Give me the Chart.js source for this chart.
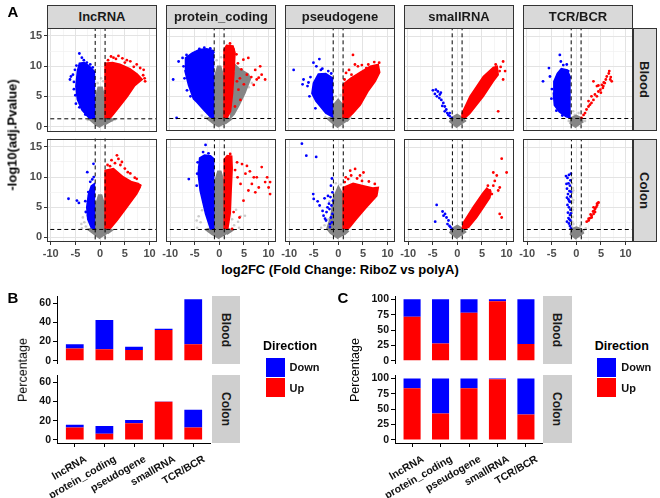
<!DOCTYPE html>
<html><head><meta charset="utf-8">
<script src="https://cdn.jsdelivr.net/npm/chart.js@4.4.1/dist/chart.umd.min.js"></script>
<style>
body{margin:0;width:660px;height:498px;background:#fff;position:relative;overflow:hidden;font-family:"Liberation Sans",Arial,sans-serif;}
canvas{position:absolute;}
.t{position:absolute;white-space:nowrap;line-height:1;}
.stripT{position:absolute;background:#D9D9D9;border:1px solid #333;box-sizing:border-box;font-weight:bold;font-size:13px;color:#1a1a1a;display:flex;align-items:center;justify-content:center;}
.stripR{position:absolute;background:#D9D9D9;border:1px solid #333;box-sizing:border-box;font-weight:bold;font-size:13px;color:#1a1a1a;display:flex;align-items:center;justify-content:center;writing-mode:vertical-rl;}
.stripG{position:absolute;background:#CFCFCF;font-weight:bold;font-size:12px;color:#1a1a1a;display:flex;align-items:center;justify-content:center;writing-mode:vertical-rl;}
.key{position:absolute;width:19px;height:19px;}
</style></head><body>
<script>
// ---------------- data ----------------
const categories = ['lncRNA','protein_coding','pseudogene','smallRNA','TCR/BCR'];
const tissues = ['Blood','Colon'];
const fcCut = [-1, 1];
const padjCut = 1.301;           // -log10(0.05)
const xRangeA = [-10.75, 11.5];
const yRangeA = [-0.78, 16.38];

// Panel B: percentage of genes (Up / Down)
const pctUp_Blood   = [12.7, 12.0, 11.0, 31.9, 17.1];
const pctDown_Blood = [4.4, 30.5, 3.4, 1.4, 47.0];
const pctUp_Colon   = [12.9, 6.4, 17.3, 39.7, 12.9];
const pctDown_Colon = [3.0, 8.2, 3.4, 0.3, 18.6];
// Panel C: share within significant genes
const shareUp_Blood   = [71.8, 28.0, 78.2, 97.1, 27.0];
const shareDown_Blood = [28.2, 72.0, 21.8, 2.9, 73.0];
const shareUp_Colon   = [84.0, 42.8, 84.0, 98.4, 41.2];
const shareDown_Colon = [16.0, 57.2, 16.0, 1.6, 58.8];

// Panel A: volcano clouds (dense areas as outlines, sparse points as points) [log2FC, -log10 padj]
const lnc_Blood_greyArea = [[[0,-0.1],[-0.9,0.3],[-2.2,1.2],[-1,1.5],[-1,4.5],[-0.4,6.5],[0.4,6.5],[1,4.5],[1,1.5],[2.8,1.2],[0.9,0.3]]];
const lnc_Blood_greyPts = [[-1.6,1.0],[-2.5,1.1],[1.8,0.9],[2.4,1.0],[-0.5,7.2],[0.6,7.5],[0.2,8.0],[-0.7,5.8],[0.8,5.5],[3.0,1.2]];
const lnc_Blood_downArea = [[[-1,1.4],[-2.2,1.4],[-3.7,2.8],[-4.6,4.5],[-4.9,6.7],[-4.6,9.2],[-4.2,10.5],[-3.2,10.6],[-2.2,10.0],[-1,9.0]]];
const lnc_Blood_downPts = [[-4.2,12.1],[-3.7,11.4],[-6.1,7.8],[-5.9,8.3],[-5.5,8.6],[-5.1,9.4],[-5.0,5.2],[-5.3,6.2],[-4.9,3.8],[-3.3,11.0],[-2.7,10.6],[-4.8,10.1],[-5.3,7.4],[-1.5,9.8],[-2.0,10.3],[-4.2,3.2],[-3.0,2.0]];
const lnc_Blood_upArea = [[[1,1.4],[1,10.5],[2.5,10.6],[4,10.3],[6,9.6],[7.5,8.7],[8.5,7.8],[7,6.8],[5.5,5.0],[4,3.4],[2.8,2.2],[2,1.4]]];
const lnc_Blood_upPts = [[2.7,11.4],[3.7,11.7],[4.5,11.3],[6.1,10.8],[7.4,10.3],[8.1,9.7],[8.8,9.4],[9.1,7.5],[8.7,8.5],[5.4,11.0],[3.2,11.2],[6.8,9.9],[1.6,11.0],[2.2,11.6],[5.0,10.6],[9.0,8.0]];

const pc_Blood_greyArea = [[[0,-0.1],[-1.2,0.5],[-2.5,1.3],[-1,1.8],[-1,8],[-0.3,10],[0.3,10],[1,8],[1,1.5],[2.5,1.2],[1.2,0.4]],
  [[2.9,10.5],[4.2,9.5],[5.9,8.7],[6.3,7.9],[5.2,5.5],[4.0,3.5],[3.0,2.0],[2.3,1.4],[2.7,5.5],[3.1,9.0]]];
const pc_Blood_greyPts = [[-2.8,1.5],[-3.5,1.8],[6.6,7.2],[6.0,6.5],[-0.5,11],[0.4,11.5]];
const pc_Blood_downArea = [[[-1,1.4],[-1.8,1.6],[-3.2,2.8],[-4.5,4.0],[-5.2,4.6],[-6.2,6.9],[-6.9,9.2],[-6.8,11.4],[-5.5,12.2],[-4.0,12.8],[-2.5,12.9],[-1.2,12.6],[-1,12.2]]];
const pc_Blood_downPts = [[-9.3,7.8],[-8.6,1.4],[-8.2,10.8],[-7.4,11.4],[-7.2,10.0],[-7.0,8.0],[-6.6,11.9],[-6.5,6.0],[-5.8,5.0],[-4.0,12.9],[-3.0,13.1],[-1.8,13.0]];
const pc_Blood_upArea = [[[1,1.4],[1,12.8],[1.5,13.5],[2.8,13.4],[3.2,12.3],[3.0,9.0],[2.7,5.5],[2.3,2.5],[1.6,1.4]]];
const pc_Blood_upPts = [[2.9,12.8],[4.9,11.1],[5.9,11.4],[5.6,8.6],[7.3,9.4],[8.0,8.1],[8.6,8.6],[9.3,7.8],[7.0,6.9],[3.9,6.1],[4.3,4.4],[3.2,3.3],[8.3,10.0],[7.6,7.8],[3.6,7.5],[4.5,9.5],[3.8,10.5],[6.5,8.2],[5.0,7.0],[3.5,12.0],[2.2,13.8],[4.2,8.0]];

const ps_Blood_greyArea = [[[0,-0.2],[-1.5,0.8],[-2.2,1.3],[-1,1.6],[-1,3.5],[0,4.5],[1,3.5],[1,1.6],[2.2,1.2],[1.8,0.8]]];
const ps_Blood_greyPts = [[-0.5,5.0],[0.5,5.2],[2.5,1.5],[-2.6,1.5]];
const ps_Blood_downArea = [[[-1,1.5],[-2.5,2.2],[-4.5,4.2],[-5.3,5.5],[-5.0,7.2],[-4.0,8.7],[-2.5,8.8],[-1,8.0]]];
const ps_Blood_downPts = [[-9.0,9.4],[-7.0,7.8],[-5.0,10.6],[-3.8,11.2],[-6.2,6.7],[-5.6,8.2],[-4.4,10.0],[-3.2,9.6],[-5.8,5.0],[-6.0,7.3],[-4.6,3.0],[-3.5,9.4],[-7.2,7.0],[-2.0,9.2],[-1.4,8.8]];
const ps_Blood_upArea = [[[1,1.4],[1,7.0],[2.5,8.0],[4.5,9.0],[6.5,10.0],[8.1,10.3],[8.4,9.0],[7.5,7.5],[6.0,5.8],[4.5,3.6],[3.0,2.2],[2,1.4]]];
const ps_Blood_upPts = [[3.0,11.9],[3.4,10.3],[2.2,9.4],[4.0,10.0],[5.7,9.7],[1.6,8.9],[2.7,8.6],[6.1,10.3],[4.8,10.2],[8.3,10.6],[7.3,10.7],[1.3,7.8]];

const sm_Blood_greyArea = [[[0,-0.2],[-1.5,0.8],[-1,1.5],[0,2.0],[1,1.5],[1.8,0.8]]];
const sm_Blood_greyPts = [];
const sm_Blood_downArea = [];
const sm_Blood_downPts = [[-4.9,6.0],[-4.3,6.1],[-3.9,5.8],[-4.5,5.4],[-3.5,5.3],[-4.1,5.0],[-3.2,4.4],[-2.8,3.9],[-2.5,3.3],[-2.2,2.8],[-1.8,1.9],[-1.5,1.7],[-2.5,2.5],[-1.1,1.4],[-3.0,3.4],[-2.0,2.2],[-1.5,2.2],[-3.6,4.7],[-3.3,5.6]];
const sm_Blood_upArea = [[[1,1.4],[1,2.2],[2.6,5.0],[5.3,8.3],[7.3,9.8],[8.1,10.0],[8.3,8.6],[7.3,7.5],[5.3,5.0],[2.6,2.2],[1.6,1.4]]];
const sm_Blood_upPts = [[9.3,10.8],[9.3,7.8],[8.3,2.5],[9.7,9.2],[8.6,9.2],[8.8,9.9],[7.8,10.3]];

const tcr_Blood_greyArea = [[[0,-0.2],[-1.2,0.5],[-1,1.4],[0,1.8],[1,1.4],[1.4,0.6]]];
const tcr_Blood_greyPts = [[-0.6,2.5],[-0.3,1.9],[0.5,2.2],[1.3,1.0],[1.8,0.9],[-1.5,0.9]];
const tcr_Blood_downArea = [[[-1.1,1.4],[-2.0,1.6],[-3.4,2.4],[-4.4,3.5],[-4.6,5.5],[-4.5,7.5],[-3.8,8.8],[-3.0,9.6],[-1.8,9.4],[-1.1,8.0]]];
const tcr_Blood_downPts = [[-3.3,11.9],[-3.1,10.8],[-5.5,9.7],[-6.7,7.5],[-5.3,8.3],[-1.9,10.3],[-1.6,9.2],[-2.6,10.2],[-4.9,6.2],[-5.0,4.6],[-4.0,2.6],[-2.8,1.8]];
const tcr_Blood_upArea = [];
const tcr_Blood_upPts = [[1.1,1.4],[1.5,1.9],[2.1,2.8],[2.5,3.3],[3.1,3.9],[3.5,4.4],[3.5,7.5],[4.2,6.7],[4.5,5.8],[4.9,6.1],[5.2,6.9],[5.5,6.7],[5.8,7.2],[6.2,8.3],[6.7,9.2],[6.9,7.8],[7.2,7.5],[6.6,8.8],[2.8,3.6],[3.8,5.3],[4.2,5.0],[5.0,5.6],[5.4,6.4],[6.0,7.8],[1.8,2.2],[2.5,4.2],[3.1,5.0],[4.5,6.8],[5.6,7.3],[7.0,8.2]];

const lnc_Colon_greyArea = [[[0,-0.2],[-1.5,0.7],[-2.5,1.3],[-1,1.6],[-1,5],[-0.3,7],[0.3,7],[1,5],[1,1.6],[2.5,1.2],[1.5,0.6]]];
const lnc_Colon_greyPts = [[-3.7,1.5],[-3.2,2.5],[-3.5,3.3],[-2.9,1.8],[-3.8,2.2],[-2.6,3.6]];
const lnc_Colon_downArea = [[[-1,1.4],[-1.8,1.6],[-2.5,3.0],[-2.7,5.0],[-2.4,7.0],[-1.8,8.5],[-1,9.0]]];
const lnc_Colon_downPts = [[-6.4,6.4],[-4.7,6.1],[-4.3,5.7],[-2.6,10.8],[-1.35,12.2],[-2.4,7.5],[-2.0,9.2],[-1.3,10.0],[-1.6,9.6],[-3.0,6.0],[-2.9,4.2]];
const lnc_Colon_upArea = [[[1,1.4],[1,11.1],[2.7,11.4],[4.7,10.0],[6.4,9.2],[7.8,8.9],[8.1,8.3],[7.4,7.2],[5.4,5.0],[3.4,2.8],[2.0,1.4]]];
const lnc_Colon_upPts = [[3.4,13.6],[3.7,13.0],[3.0,12.3],[2.3,12.8],[4.1,12.0],[5.0,11.4],[6.1,10.6],[7.4,9.7],[8.1,8.6],[2.0,11.8],[1.5,12.0],[5.6,10.8],[7.0,9.9],[4.4,12.5]];

const pc_Colon_greyArea = [[[0,-0.2],[-1.5,0.5],[-2.8,1.3],[-1,1.7],[-1,9],[-0.3,11],[0.3,11],[1,9],[1,1.6],[2.8,1.2],[1.5,0.5]]];
const pc_Colon_greyPts = [[-4.5,1.6],[-3.8,2.5],[-4.2,3.5],[-3.5,4.5],[-4.6,2.8],[3.0,2.0],[3.8,2.6],[4.3,3.5],[3.4,4.6],[2.6,3.0],[4.0,1.6],[5.2,3.6]];
const pc_Colon_downArea = [[[-1,1.4],[-1.8,1.4],[-2.8,3.9],[-3.9,7.8],[-4.3,10.6],[-4.0,13.2],[-3.0,13.7],[-1.8,13.6],[-1,13.0]]];
const pc_Colon_downPts = [[-2.8,15.4],[-6.2,9.7],[-4.5,10.6],[-4.1,11.7],[-3.3,14.2],[-2.2,14.0],[-4.6,8.6],[-4.4,12.5]];
const pc_Colon_upArea = [[[1,1.4],[1,13.0],[1.6,13.6],[2.5,13.5],[2.6,11.5],[2.4,8],[2.2,4],[1.7,1.4]]];
const pc_Colon_upPts = [[2.2,13.9],[3.6,12.5],[4.6,12.2],[5.6,11.9],[7.6,10.0],[8.6,11.7],[9.3,9.2],[10,8.3],[6.6,8.9],[7.0,10.0],[4.9,6.1],[4.1,3.3],[2.9,4.2],[2.6,1.4],[5.9,7.8],[4.3,8.9],[5.3,10.6],[9.7,10],[10.3,9.2],[8.0,8.3],[7.3,7.5],[3.7,10.0],[10.3,7.2],[3.2,11.2],[6.2,11.0]];

const ps_Colon_greyArea = [[[0,-0.2],[-1.6,0.7],[-2.3,1.4],[-1.5,3.5],[-1,6.5],[0,8.5],[1,7],[1,1.6],[2.0,1.0],[1.2,0.4]]];
const ps_Colon_greyPts = [[-2.8,2.0],[-3.5,1.6],[-2.0,3.0],[-1.8,6.0],[-0.5,9.0],[0.5,8.8],[1.5,2.5],[2.5,2.0]];
const ps_Colon_downArea = [];
const ps_Colon_downPts = [[-7.4,15.6],[-6.5,13.6],[-4.5,13.4],[-5.1,7.2],[-5.0,6.4],[-3.0,3.6],[-2.7,3.1],[-2.1,6.9],[-1.9,5.6],[-2.2,5.0],[-2.4,4.2],[-1.7,1.7],[-1.3,9.8],[-1.5,8.6],[-1.2,7.5],[-1.6,6.7],[-1.1,6.1],[-1.4,5.3],[-1.8,4.7],[-1.2,3.9],[-1.5,3.3],[-1.3,2.5],[-1.7,2.2],[-2.5,2.8],[-3.2,4.4],[-4.2,6.0],[-3.8,5.3],[-2.8,6.5]];
const ps_Colon_upArea = [[[1,1.4],[1,8.3],[3,9.0],[5,8.6],[7,8.2],[8.1,8.3],[7.8,6.9],[5.7,5.0],[3.7,3.1],[2.2,1.6],[1.6,1.4]]];
const ps_Colon_upPts = [[3.4,11.4],[2.4,11.1],[4.4,10.3],[5.1,10.8],[1.5,10.0],[2.0,9.7],[6.2,9.3],[7.4,8.9],[3.8,9.8],[2.6,10.3],[1.3,9.2],[4.8,9.4]];

const sm_Colon_greyArea = [[[0,-0.2],[-1.5,0.8],[-1,1.5],[0,2.0],[1,1.5],[1.8,0.8]]];
const sm_Colon_greyPts = [];
const sm_Colon_downArea = [];
const sm_Colon_downPts = [[-4.2,5.4],[-4.5,2.6],[-3.0,4.3],[-2.5,3.9],[-2.2,3.3],[-1.8,2.8],[-1.6,1.9],[-1.4,1.7],[-2.0,2.2],[-1.1,1.4],[-2.8,3.6]];
const sm_Colon_upArea = [[[1,1.4],[1.2,2.4],[3.2,5.0],[5.2,7.4],[6.0,8.2],[6.8,7.6],[6.6,6.6],[5.3,5.0],[3.9,3.3],[2.3,1.7],[1.6,1.4]]];
const sm_Colon_upPts = [[9.0,13.1],[10,10.8],[7.3,10.8],[8.0,10.3],[7.6,9.4],[8.6,8.3],[8.3,7.8],[7.3,8.6],[6.6,7.8],[8.6,3.9],[9.0,3.3],[7.0,7.2],[6.2,8.6],[5.8,7.6]];

const tcr_Colon_greyArea = [[[0,-0.3],[-1.2,0.5],[-1,1.4],[0,1.7],[1,1.4],[1.5,0.6]]];
const tcr_Colon_greyPts = [[-0.9,1.8],[-0.8,2.6],[-0.7,3.4],[-0.9,4.2],[-0.8,5.0],[-0.7,5.8],[-0.9,6.6],[-0.8,7.4],[-0.7,8.2],[-0.9,9.0],[-0.8,9.8],[-0.6,2.2],[-0.7,4.6],[-0.6,6.2],[-0.6,7.8],[1.5,1.2],[1.9,1.5],[0.8,1.9]];
const tcr_Colon_downArea = [];
const tcr_Colon_downPts = [[-1.1,1.5],[-1.3,1.9],[-1.5,2.3],[-1.2,2.8],[-1.6,3.2],[-1.3,3.7],[-1.7,4.1],[-1.2,4.6],[-1.5,5.0],[-1.8,5.4],[-1.3,5.9],[-1.6,6.3],[-1.2,6.8],[-1.7,7.2],[-1.4,7.7],[-1.9,8.1],[-1.3,8.6],[-1.6,9.0],[-1.2,9.5],[-1.8,9.9],[-1.5,10.4],[-2.1,10.2],[-1.1,10.6],[-1.4,3.0],[-1.9,2.6],[-1.1,4.0],[-1.4,6.0],[-1.9,6.6],[-1.1,7.6],[-2.0,8.9]];
const tcr_Colon_upArea = [];
const tcr_Colon_upPts = [[2.1,2.6],[2.5,3.1],[2.8,3.2],[3.1,3.6],[3.5,3.9],[3.6,4.4],[3.8,4.7],[4.0,5.0],[4.2,5.3],[4.4,5.7],[4.5,5.8],[3.8,4.2],[3.4,4.3],[2.9,3.8],[4.2,5.6],[3.5,5.0],[3.1,3.3],[2.5,2.8]];

// ---------------- layout / rendering ----------------
Chart.defaults.animation = false;
Chart.defaults.font.family = '"Liberation Sans", Arial, sans-serif';
Chart.defaults.plugins.legend.display = false;
Chart.defaults.plugins.tooltip.enabled = false;

const panels = [
 [ [lnc_Blood_greyArea,lnc_Blood_greyPts,lnc_Blood_downArea,lnc_Blood_downPts,lnc_Blood_upArea,lnc_Blood_upPts],
   [pc_Blood_greyArea,pc_Blood_greyPts,pc_Blood_downArea,pc_Blood_downPts,pc_Blood_upArea,pc_Blood_upPts],
   [ps_Blood_greyArea,ps_Blood_greyPts,ps_Blood_downArea,ps_Blood_downPts,ps_Blood_upArea,ps_Blood_upPts],
   [sm_Blood_greyArea,sm_Blood_greyPts,sm_Blood_downArea,sm_Blood_downPts,sm_Blood_upArea,sm_Blood_upPts],
   [tcr_Blood_greyArea,tcr_Blood_greyPts,tcr_Blood_downArea,tcr_Blood_downPts,tcr_Blood_upArea,tcr_Blood_upPts] ],
 [ [lnc_Colon_greyArea,lnc_Colon_greyPts,lnc_Colon_downArea,lnc_Colon_downPts,lnc_Colon_upArea,lnc_Colon_upPts],
   [pc_Colon_greyArea,pc_Colon_greyPts,pc_Colon_downArea,pc_Colon_downPts,pc_Colon_upArea,pc_Colon_upPts],
   [ps_Colon_greyArea,ps_Colon_greyPts,ps_Colon_downArea,ps_Colon_downPts,ps_Colon_upArea,ps_Colon_upPts],
   [sm_Colon_greyArea,sm_Colon_greyPts,sm_Colon_downArea,sm_Colon_downPts,sm_Colon_upArea,sm_Colon_upPts],
   [tcr_Colon_greyArea,tcr_Colon_greyPts,tcr_Colon_downArea,tcr_Colon_downPts,tcr_Colon_upArea,tcr_Colon_upPts] ]
];

function addCanvas(left, top, w, h){
  const c = document.createElement('canvas');
  c.width = Math.round(w); c.height = Math.round(h);
  c.style.left = Math.round(left)+'px'; c.style.top = Math.round(top)+'px';
  c.style.width = Math.round(w)+'px'; c.style.height = Math.round(h)+'px';
  document.body.appendChild(c);
  return c;
}
// build a chart and adjust its canvas so that the plot area lands on the target rectangle
function fitted(tL, tT, tW, tH, pads, build){
  let [pl, pt, pr, pb] = pads, cv, chart;
  for (let k = 0; k < 4; k++){
    cv = addCanvas(tL - pl, tT - pt, tW + pl + pr, tH + pt + pb);
    chart = build(cv);
    const a = chart.chartArea;
    const npl = Math.round(a.left), npt = Math.round(a.top), npr = Math.round(cv.width - a.right), npb = Math.round(cv.height - a.bottom);
    if (npl === pl && npt === pt && npr === pr && npb === pb) break;
    if (k === 3) break;
    chart.destroy(); cv.remove();
    pl = npl; pt = npt; pr = npr; pb = npb;
  }
  return chart;
}
function addText(txt, x, y, css, rot){
  const d = document.createElement('div');
  d.className = 't'; d.textContent = txt;
  d.style.cssText += css;
  d.style.left = x+'px'; d.style.top = y+'px';
  d.style.transform = 'translate(-50%,-50%)' + (rot ? ' rotate('+rot+'deg)' : '');
  document.body.appendChild(d);
}
function addBox(cls, x, y, w, h, txt, bg){
  const d = document.createElement('div');
  d.className = cls; d.style.left = x+'px'; d.style.top = y+'px';
  d.style.width = w+'px'; d.style.height = h+'px';
  if (bg) d.style.background = bg;
  if (txt) d.textContent = txt;
  document.body.appendChild(d);
}
const toXY = a => a.map(p => ({x:p[0], y:p[1]}));
const borderPlugin = { id:'pborder', afterDatasetsDraw(chart){
  const a = chart.chartArea, c = chart.ctx;
  c.save(); c.strokeStyle = '#333'; c.lineWidth = 1;
  c.strokeRect(Math.round(a.left)+0.5, Math.round(a.top)+0.5, Math.round(a.right-a.left)-1, Math.round(a.bottom-a.top)-1);
  c.restore(); } };
const isMajor = v => Math.abs(v/5 - Math.round(v/5)) < 1e-6;

const colL = [47, 166, 285, 404, 523], colW = 110;
const rowT = [28, 139], rowH = 103;
const GREY_DENSE = '#858585', GREY_PTS = 'rgba(140,140,140,0.45)', BLUE = '#0000FF', RED = '#FF0000';

function volcano(r, c){
  const [gA, gP, dA, dP, uA, uP] = panels[r][c];
  const padL = c === 0 ? 30 : 0, padB = r === 1 ? 18 : 0;
  const ds = [];
  const area = (poly, col, ord) => ({data: toXY(poly), showLine:true, fill:'shape', backgroundColor:col, borderColor:col, borderWidth:1.6, pointRadius:0, order:ord});
  const pts = (arr, col, rad, ord) => ({data: toXY(arr), showLine:false, pointRadius:rad, pointBorderWidth:0, pointBackgroundColor:col, backgroundColor:col, borderColor:col, order:ord});
  gA.forEach(p => ds.push(area(p, GREY_DENSE, 9)));
  ds.push(pts(gP, GREY_PTS, 1.3, 8));
  dA.forEach(p => ds.push(area(p, BLUE, 6)));
  ds.push(pts(dP, BLUE, 1.4, 5));
  uA.forEach(p => ds.push(area(p, RED, 4)));
  ds.push(pts(uP, RED, 1.4, 3));
  const dash = (pa) => ({data: toXY(pa), showLine:true, borderColor:'#000', borderWidth:1, borderDash:[4,3], pointRadius:0, fill:false, order:0});
  fcCut.forEach(v => ds.push(dash([[v, -5],[v, 25]])));
  ds.push(dash([[-20, padjCut],[20, padjCut]]));
  const tickFont = {size:11, weight:'bold'};
  fitted(colL[c], rowT[r], colW, rowH, [padL, 0, 0, padB], cv => new Chart(cv, {
    type:'scatter',
    data:{datasets: ds.map(d => Object.assign({}, d, {data: d.data.slice()}))},
    options:{
      responsive:false, maintainAspectRatio:false,
      layout:{padding:0},
      scales:{
        x:{ type:'linear', min:xRangeA[0], max:xRangeA[1],
            ticks:{ display: r===1, stepSize:2.5, includeBounds:false, autoSkip:false, maxRotation:0, font:tickFont, color:'#4D4D4D', padding:2,
                    callback: v => isMajor(v) ? String(v) : '' },
            grid:{ color: ctx => isMajor(ctx.tick.value) ? '#E3E3E3' : '#F1F1F1', lineWidth: ctx => isMajor(ctx.tick.value) ? 1 : 0.7,
                   drawTicks: r===1, tickLength:3, tickColor: ctx => isMajor(ctx.tick.value) ? '#333' : 'rgba(0,0,0,0)' },
            border:{display:false},
            afterFit: s => { s.height = padB; } },
        y:{ type:'linear', min:yRangeA[0], max:yRangeA[1],
            ticks:{ display: c===0, stepSize:2.5, includeBounds:false, autoSkip:false, font:tickFont, color:'#4D4D4D', padding:2,
                    callback: v => isMajor(v) ? String(v) : '' },
            grid:{ color: ctx => isMajor(ctx.tick.value) ? '#E3E3E3' : '#F1F1F1', lineWidth: ctx => isMajor(ctx.tick.value) ? 1 : 0.7,
                   drawTicks: c===0, tickLength:3, tickColor: ctx => isMajor(ctx.tick.value) ? '#333' : 'rgba(0,0,0,0)' },
            border:{display:false},
            afterFit: s => { s.width = padL; } }
      }
    },
    plugins:[borderPlugin]
  }));
}
for (let r=0;r<2;r++) for (let c=0;c<5;c++) volcano(r,c);

// strips panel A
categories.forEach((name, c) => addBox('stripT', colL[c], 4.5, colW, 24, name));
tissues.forEach((name, r) => addBox('stripR', 632.5, rowT[r], 24, rowH, name));
addText('A', 13, 11, 'font-weight:bold;font-size:15px;color:#000;');
addText('-log10(adj.Pvalue)', 12, 135, 'font-weight:bold;font-size:13px;color:#000;', -90);
addText('log2FC (Fold Change: RiboZ vs polyA)', 340, 269, 'font-weight:bold;font-size:13px;color:#000;');

// ---------------- bar panels ----------------
function barChart(left, top, w, h, lower, up, down, yMin, yMax, step){
  const padL = 40, padB = lower ? 58 : 0;
  const xs = categories.map((_, i) => i+1);
  fitted(left, top, w, h, [padL, 0, 0, padB], cv => new Chart(cv, {
    type:'bar',
    data:{ datasets:[
      {label:'Up', data: xs.map((x,i)=>({x, y: up[i]})), backgroundColor:RED, borderWidth:0, categoryPercentage:0.6, barPercentage:1},
      {label:'Down', data: xs.map((x,i)=>({x, y: down[i]})), backgroundColor:BLUE, borderWidth:0, categoryPercentage:0.6, barPercentage:1}
    ]},
    options:{
      responsive:false, maintainAspectRatio:false, layout:{padding:0},
      scales:{
        x:{ type:'linear', stacked:true, offset:false, min:0.4, max:5.6, display: lower,
            ticks:{ stepSize:1, includeBounds:false, autoSkip:false, minRotation:30, maxRotation:30, labelOffset:11, padding:6,
                    font:{size:10.5, weight:'bold'}, color:'#111',
                    callback: v => Number.isInteger(v) ? categories[v-1] : '' },
            grid:{ display:true, drawOnChartArea:false, drawTicks:true, tickLength:4, color:'#000', tickColor:'#000', offset:false },
            border:{display:true, color:'#000', width:1},
            afterFit: s => { s.height = padB; } },
        y:{ type:'linear', stacked:true, min:yMin, max:yMax,
            ticks:{ stepSize:step, includeBounds:false, font:{size:10.5, weight:'bold'}, color:'#111', padding:2 },
            grid:{ display:true, drawOnChartArea:false, drawTicks:true, tickLength:4, color:'#000', tickColor:'#000' },
            border:{display:true, color:'#000', width:1},
            afterFit: s => { s.width = padL; } }
      }
    }
  }));
}
// B
barChart(57, 296, 154, 68, false, pctUp_Blood, pctDown_Blood, -3.2, 67.2, 20);
barChart(57, 375, 154, 68, true, pctUp_Colon, pctDown_Colon, -3.2, 67.2, 20);
// C
barChart(395, 296, 148, 68, false, shareUp_Blood, shareDown_Blood, -5, 105, 25);
barChart(395, 375, 148, 68, true, shareUp_Colon, shareDown_Colon, -5, 105, 25);

tissues.forEach((name, r) => {
  const y = r === 0 ? 296 : 375;
  addBox('stripG', 211.7, y, 28.3, 68, name);
  addBox('stripG', 543.3, y, 28.3, 68, name);
});
addText('B', 13, 297, 'font-weight:bold;font-size:15px;color:#000;');
addText('C', 343, 297, 'font-weight:bold;font-size:15px;color:#000;');
addText('Percentage', 23, 370, 'font-size:12.5px;color:#000;', -90);
addText('Percentage', 355, 370, 'font-size:12.5px;color:#000;', -90);

// legends
[265.5, 597.3].forEach(lx => {
  addText('Direction', lx + 24.5, 346, 'font-weight:bold;font-size:12.5px;color:#000;');
  addBox('key', lx, 357.7, 19, 19, '', BLUE);
  addBox('key', lx, 378.2, 19, 19, '', RED);
  const d1 = document.createElement('div'); d1.className='t'; d1.textContent='Down';
  d1.style.cssText += 'left:'+(lx+24)+'px;top:362px;font-weight:bold;font-size:11px;color:#111;'; document.body.appendChild(d1);
  const d2 = document.createElement('div'); d2.className='t'; d2.textContent='Up';
  d2.style.cssText += 'left:'+(lx+24)+'px;top:382.5px;font-weight:bold;font-size:11px;color:#111;'; document.body.appendChild(d2);
});
</script>
</body></html>
